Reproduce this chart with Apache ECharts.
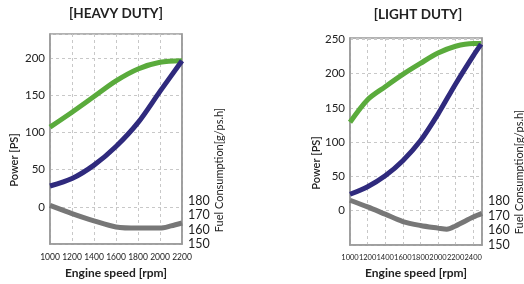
<!DOCTYPE html>
<html>
<head>
<meta charset="utf-8">
<script src="https://cdn.jsdelivr.net/npm/echarts@6/dist/echarts.min.js"></script>
<style>
  html, body { margin: 0; padding: 0; background: #fff; }
  #chart { width: 524px; height: 284px; }
</style>
</head>
<body>
<div id="chart"></div>
<script>
// heavy duty
var heavyRpm = [1000, 1200, 1400, 1600, 1800, 2000, 2200];
var heavyMaxPower = [107, 127, 148, 169, 185, 194, 196];
var heavyPropPower = [28, 38, 56, 81, 113, 155, 196];
var heavyFuelRpm = [1000, 1200, 1400, 1600, 1800, 2000, 2100, 2200];
var heavyFuel = [176.6, 171, 166, 161.8, 161, 161, 162.5, 164.5];

// light duty
var lightRpm = [1000, 1200, 1400, 1600, 1800, 2000, 2200, 2400, 2490];
var lightMaxPower = [129, 162, 181, 199, 215, 230, 240, 244, 244];
var lightPropPower = [24, 35, 51, 73, 102, 141, 185, 226, 243];
var lightFuelRpm = [1000, 1200, 1400, 1600, 1800, 2000, 2100, 2200, 2400, 2500];
var lightFuel = [180.5, 176, 171, 166, 163.3, 161.5, 160.7, 163, 169, 171.5];

var titles = ['[HEAVY DUTY]', '[LIGHT DUTY]'];

var GREEN = '#5aab3c', BLUE = '#2f2a7d', GRAY = '#777777';
var FONT = 'Lato';

function pairs(xs, ys) {
    return xs.map(function (x, i) { return [x, ys[i]]; });
}

function xAx(idx, max, fs) {
    return {
        type: 'value', gridIndex: idx, min: 1000, max: max, interval: 200,
        axisLine: { onZero: false, lineStyle: { color: '#999', width: 1.5 } },
        axisTick: { show: false },
        axisLabel: {
            color: '#222', fontFamily: FONT, fontSize: fs, margin: 9, hideOverlap: false, interval: 0,
            formatter: function (v) { return v % 200 === 0 ? String(v) : ''; }
        },
        splitLine: { show: true, lineStyle: { color: '#c8c8c8', type: [3, 3] } },
        name: 'Engine speed [rpm]', nameLocation: 'middle', nameGap: 22,
        nameTextStyle: { color: '#222', fontFamily: FONT, fontSize: 12, fontWeight: 'bold' }
    };
}

function leftAx(idx, max, top) {
    return {
        type: 'value', gridIndex: idx, min: -50, max: max, interval: 50,
        axisLine: { show: true, onZero: false, lineStyle: { color: '#999', width: 1.5 } },
        axisTick: { show: false },
        axisLabel: {
            color: '#222', fontFamily: FONT, fontSize: 11.5, margin: 5,
            formatter: function (v) { return (v < 0 || v > top) ? '' : String(v); }
        },
        splitLine: { show: true, lineStyle: { color: '#c8c8c8', type: [3, 3] } }
    };
}

function rightAx(idx, max) {
    return {
        type: 'value', gridIndex: idx, position: 'right', min: 150, max: max, interval: 10,
        axisLine: { show: true, onZero: false, lineStyle: { color: '#999', width: 1.5 } },
        axisTick: { show: false },
        axisLabel: {
            color: '#222', fontFamily: FONT, fontSize: 12.5, margin: 6,
            formatter: function (v) { return v > 180 ? '' : String(v); }
        },
        splitLine: { show: false }
    };
}

function line(xi, yi, data, color) {
    return {
        type: 'line', xAxisIndex: xi, yAxisIndex: yi, data: data,
        smooth: 0.3, showSymbol: false, symbol: 'none',
        lineStyle: { color: color, width: 5 }
    };
}

function txt(x, y, s, size, weight, rot) {
    return {
        type: 'text', x: x, y: y, rotation: rot || 0,
        style: {
            text: s, fill: '#222', font: weight + ' ' + size + 'px ' + FONT,
            align: 'center', verticalAlign: 'middle'
        }
    };
}

var dom = document.getElementById('chart');
var myChart = echarts.init(dom, null, { renderer: 'canvas' });

var option = {
    animation: false,
    backgroundColor: '#fff',
    grid: [
        { left: 50, top: 34, width: 132, height: 212, show: true, borderColor: '#999', borderWidth: 1.5 },
        { left: 350, top: 38, width: 132, height: 211, show: true, borderColor: '#999', borderWidth: 1.5 }
    ],
    xAxis: [xAx(0, 2200, 8.5), xAx(1, 2500, 7.5)],
    yAxis: [leftAx(0, 232, 200), rightAx(0, 294.5), leftAx(1, 252, 250), rightAx(1, 291)],
    series: [
        line(0, 0, pairs(heavyRpm, heavyMaxPower), GREEN),
        line(0, 0, pairs(heavyRpm, heavyPropPower), BLUE),
        line(0, 1, pairs(heavyFuelRpm, heavyFuel), GRAY),
        line(1, 2, pairs(lightRpm, lightMaxPower), GREEN),
        line(1, 2, pairs(lightRpm, lightPropPower), BLUE),
        line(1, 3, pairs(lightFuelRpm, lightFuel), GRAY)
    ],
    graphic: [
        txt(116, 14, titles[0], 13.5, 'bold'),
        txt(418, 15, titles[1], 13.5, 'bold'),
        txt(14, 160, 'Power [PS]', 11, '600', Math.PI / 2),
        txt(316, 163, 'Power [PS]', 11, '600', Math.PI / 2),
        txt(219, 170, 'Fuel Consumption[g/ps.h]', 11, 'normal', Math.PI / 2),
        txt(519, 172, 'Fuel Consumption[g/ps.h]', 11, 'normal', Math.PI / 2)
    ]
};

myChart.setOption(option);
</script>
</body>
</html>
